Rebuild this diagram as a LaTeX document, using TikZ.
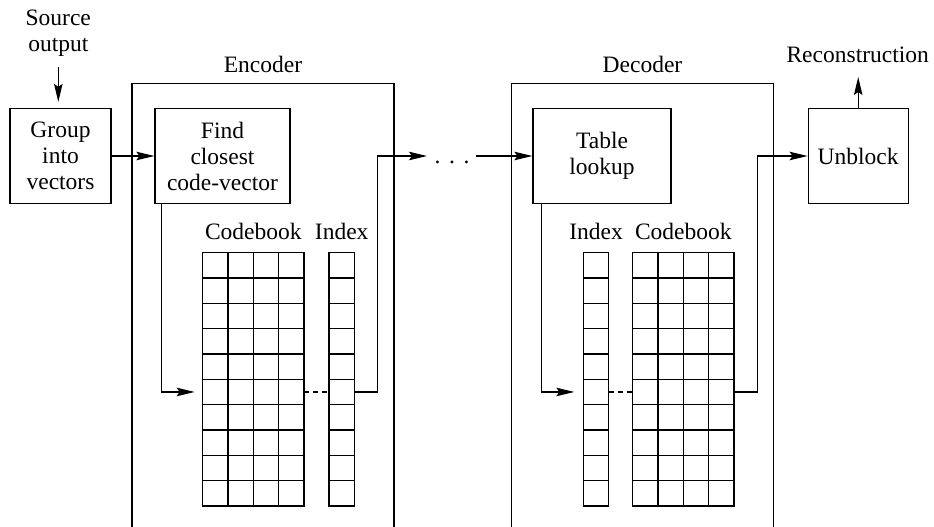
\documentclass[tikz,border=0pt]{standalone}
\usepackage{fontspec}
\setmainfont{Liberation Serif}
\newfontfamily\diagfont{Liberation Serif}
\usetikzlibrary{arrows.meta,positioning}

\begin{document}
\begin{tikzpicture}[x=1pt,y=1pt,line width=1.2pt,
      font=\diagfont\fontsize{23.5}{26}\selectfont,
      blk/.style={draw,align=center,minimum height=95pt},
      book/.style={draw,outer sep=0pt,minimum height=253.3pt},
      lbl/.style={anchor=base,inner sep=0pt},
      arr/.style={-{Stealth[length=18pt,width=8.5pt,inset=3pt]}},
      dsh/.style={dash pattern=on 5pt off 4pt}]
    \useasboundingbox (0,0) rectangle (934,-527);
    % encoder side
    \node[align=center,inner sep=0pt,anchor=south] (src) at (58.3,-57) {Source\\output};
    \node[blk,minimum width=101pt] (grp) at (60.5,-156) {Group\\into\\vectors};
    \node[blk,minimum width=135pt] (find) at (222.5,-156) {Find\\closest\\code-vector};
    \draw (132,-527) |- (394,-83.5) -- (394,-527);
    \node[lbl] (enc) at (263,-73) {Encoder};
    \node[book,minimum width=101.3pt] (cbE) at (253.3,-379.3) {};
    \node[book,minimum width=25.33pt] (ixE) at (341.7,-379.3) {};
    \draw[shift={(cbE.south west)},xstep=25.33pt,ystep=25.33pt] (0,0) grid (101.3,253.3);
    \draw[shift={(ixE.south west)},xstep=40pt,ystep=25.33pt] (0,0) grid (25.33,253.3);
    \node[lbl,above=13.4pt of cbE.north,anchor=base] (cbElbl) {Codebook};
    \node[lbl,above=13.4pt of ixE.north,anchor=base] (ixElbl) {Index};
    \node[lbl] (dots) at (452,-163) {.\hspace{8.6pt}.\hspace{8.6pt}.};
    % decoder side
    \draw (511.7,-527) |- (773.3,-83.5) -- (773.3,-527);
    \node[lbl] (dec) at (642.5,-73) {Decoder};
    \node[blk,minimum width=138pt] (tab) at (602,-156) {Table\\lookup};
    \node[book,minimum width=25.33pt] (ixD) at (596,-379.3) {};
    \node[book,minimum width=101.3pt] (cbD) at (683.3,-379.3) {};
    \draw[shift={(ixD.south west)},xstep=40pt,ystep=25.33pt] (0,0) grid (25.33,253.3);
    \draw[shift={(cbD.south west)},xstep=25.33pt,ystep=25.33pt] (0,0) grid (101.3,253.3);
    \node[lbl,above=13.4pt of ixD.north,anchor=base] (ixDlbl) {Index};
    \node[lbl,above=13.4pt of cbD.north,anchor=base] (cbDlbl) {Codebook};
    \node[blk,minimum width=100pt] (unb) at (858.2,-156) {Unblock};
    \node[lbl] (rec) at (857.7,-63) {Reconstruction};
    % connectors
    \draw[arr,shorten >=6pt] ([yshift=-10pt]src.south) -- (src.south |- grp.north);
    \draw[arr] (grp) -- (find);
    \draw[arr,shorten >=8pt] ([xshift=7pt]find.south west) |- ([yshift=-12.67pt]cbE.west);
    \draw[dsh] ([yshift=-12.67pt]cbE.east) -- ([yshift=-12.67pt]ixE.west);
    \draw[arr] ([yshift=-12.67pt]ixE.east) -- ++(23.3,0) |- ([xshift=-7pt]dots.west |- find.east);
    \draw[arr] ([xshift=6pt]dots.east |- tab.west) -- (tab.west);
    \draw[arr,shorten >=9pt] ([xshift=8.7pt]tab.south west) |- ([yshift=-12.67pt]ixD.west);
    \draw[dsh] ([yshift=-12.67pt]ixD.east) -- ([yshift=-12.67pt]cbD.west);
    \draw[arr] ([yshift=-12.67pt]cbD.east) -- ++(23.3,0) |- (unb.west);
    \draw[arr] (unb.north) -- ([yshift=-14pt]rec.base -| unb.north);
  \end{tikzpicture}
\end{document}
